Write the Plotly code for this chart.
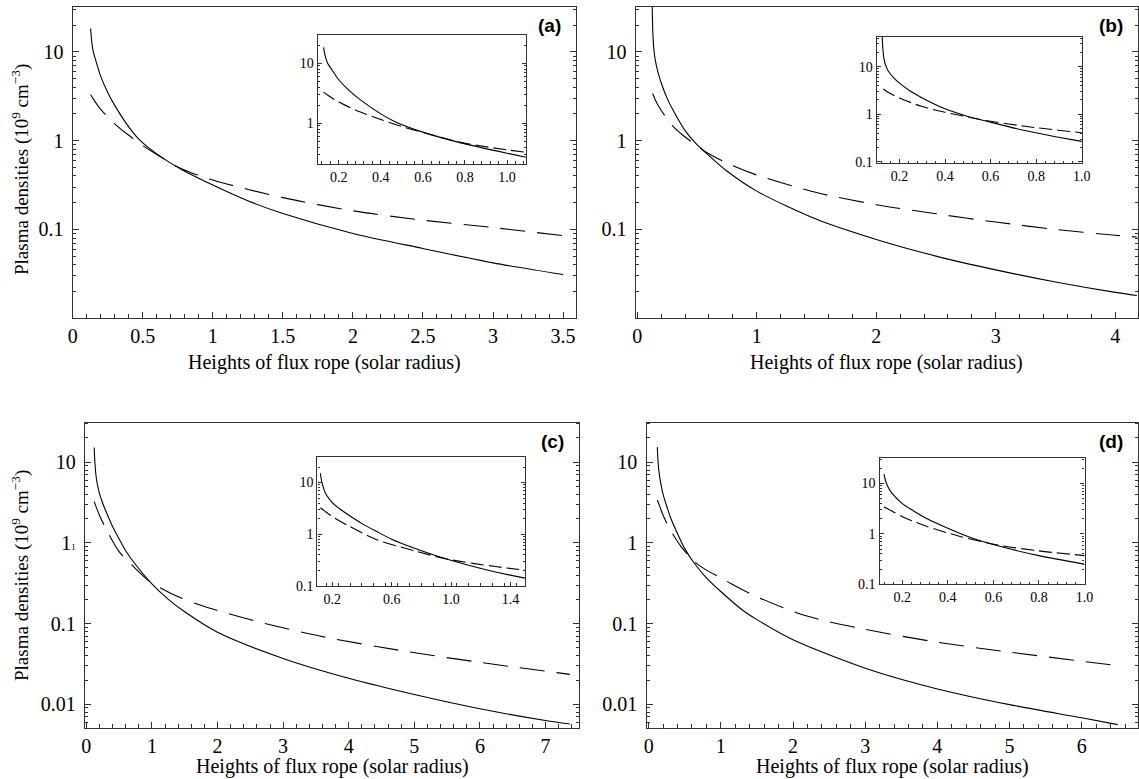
import plotly.graph_objects as go

# ---------------- data ----------------
# Panel (a)
a_x_solid = [0.128, 0.135, 0.147, 0.165, 0.2, 0.25, 0.3, 0.4, 0.47, 0.6, 0.78, 1.0, 1.25, 1.5, 2.0, 2.5, 3.0, 3.5]
a_solid = [18.4, 13.5, 10.0, 8.0, 5.3, 3.5, 2.5, 1.43, 1.05, 0.71, 0.47, 0.316, 0.21, 0.151, 0.090, 0.061, 0.042, 0.031]
a_x_dash = [0.128, 0.15, 0.2, 0.3, 0.4, 0.5, 0.6, 0.78, 1.0, 1.5, 2.0, 2.5, 3.0, 3.5]
a_dash = [3.3, 2.9, 2.25, 1.55, 1.15, 0.88, 0.7, 0.48, 0.36, 0.228, 0.162, 0.127, 0.105, 0.085]

# Panel (b)
b_x_solid = [0.123, 0.124, 0.126, 0.13, 0.135, 0.14, 0.15, 0.175, 0.2, 0.25, 0.3, 0.4, 0.5, 0.57, 0.75, 1.0, 1.5, 2.0, 2.5, 3.0, 3.5, 4.0, 4.18]
b_solid = [80, 45, 28, 17, 12.5, 10.5, 8.2, 5.8, 4.5, 3.0, 2.2, 1.3, 0.9, 0.74, 0.455, 0.27, 0.13, 0.077, 0.050, 0.035, 0.0255, 0.0195, 0.018]
b_x_dash = [0.129, 0.15, 0.2, 0.3, 0.4, 0.5, 0.57, 0.75, 1.0, 1.5, 2.0, 2.5, 3.0, 3.5, 4.0, 4.18]
b_dash = [3.4, 2.9, 2.2, 1.45, 1.1, 0.88, 0.75, 0.56, 0.41, 0.26, 0.19, 0.15, 0.121, 0.10, 0.086, 0.082]

# Panel (c)
c_x_solid = [0.12, 0.125, 0.135, 0.145, 0.16, 0.2, 0.25, 0.3, 0.4, 0.5, 0.6, 0.75, 0.97, 1.25, 1.5, 2.0, 3.0, 4.0, 5.0, 6.0, 7.0, 7.37]
c_solid = [15.2, 12, 9, 7.2, 5.8, 4.1, 3.1, 2.45, 1.6, 1.12, 0.8, 0.54, 0.33, 0.2, 0.14, 0.078, 0.037, 0.021, 0.0132, 0.0088, 0.0063, 0.0057]
c_x_dash = [0.12, 0.15, 0.2, 0.3, 0.5, 0.75, 0.97, 1.3, 1.73, 2.63, 3.64, 4.89, 6.01, 7.37]
c_dash = [3.25, 2.8, 2.2, 1.5, 0.78, 0.48, 0.33, 0.235, 0.17, 0.105, 0.068, 0.045, 0.033, 0.0235]

# Panel (d)
d_x_solid = [0.12, 0.125, 0.135, 0.145, 0.16, 0.2, 0.25, 0.3, 0.4, 0.5, 0.62, 0.8, 1.0, 1.28, 1.5, 2.0, 3.0, 4.0, 5.0, 6.0, 6.5]
d_solid = [15.4, 12, 9, 7.4, 6, 4.0, 2.85, 2.1, 1.3, 0.85, 0.58, 0.37, 0.25, 0.152, 0.112, 0.063, 0.028, 0.0155, 0.0099, 0.0068, 0.0056]
d_x_dash = [0.12, 0.15, 0.2, 0.3, 0.45, 0.62, 0.8, 1.0, 1.15, 1.5, 2.18, 2.94, 3.94, 4.94, 6.52]
d_dash = [3.4, 2.9, 2.2, 1.45, 0.9, 0.6, 0.46, 0.37, 0.31, 0.215, 0.125, 0.087, 0.060, 0.045, 0.030]

panel_labels = ["(a)", "(b)", "(c)", "(d)"]
y_tickvals = [0.01, 0.1, 1, 10]
y_ticktext = ["0.01", "0.1", "1", "10"]
y_ticktext_c = ["0.01", "0.1", "1<span style='font-size:9px'>1</span>", "10"]
x_title = "Heights of flux rope (solar radius)"
y_title = "Plasma densities (10<sup>9</sup> cm<sup>\u22123</sup>)"

# ---------------- figure ----------------
W, H = 1139, 779
SERIF = "Liberation Serif, Times New Roman, serif"
fig = go.Figure()


def px_x(p):
    return p / W


def px_y(p):
    return 1 - p / H


panels = [
    dict(xs=a_x_solid, ys=a_solid, xd=a_x_dash, yd=a_dash),
    dict(xs=b_x_solid, ys=b_solid, xd=b_x_dash, yd=b_dash),
    dict(xs=c_x_solid, ys=c_solid, xd=c_x_dash, yd=c_dash),
    dict(xs=d_x_solid, ys=d_solid, xd=d_x_dash, yd=d_dash),
]

# main axes geometry (pixels)
main_geo = [
    (72.7, 575.7, 6.7, 317.7, [0.0, 3.59], [-1.995, 1.51], 0.5, 0.1),
    (635.7, 1138.0, 6.7, 317.7, [-0.013, 4.19], [-1.995, 1.51], 1, 0.2),
    (85.0, 579.0, 422.7, 727.7, [-0.02, 7.51], [-2.29, 1.49], 1, 0.2),
    (646.5, 1138.0, 422.7, 727.7, [-0.03, 6.78], [-2.29, 1.49], 1, 0.2),
]
inset_geo = [
    (317.7, 526.0, 35.0, 164.0, [0.1, 1.09], [-0.68, 1.47], 0.04, ["0.2", "0.4", "0.6", "0.8", "1.0"], [0.2, 0.4, 0.6, 0.8, 1.0]),
    (876.7, 1081.7, 36.7, 163.3, [0.1, 1.0], [-1.03, 1.63], 0.04, ["0.2", "0.4", "0.6", "0.8", "1.0"], [0.2, 0.4, 0.6, 0.8, 1.0]),
    (317.4, 525.3, 457.3, 585.7, [0.1, 1.5], [-1.0, 1.49], 0.08, ["0.2", "0.6", "1.0", "1.4"], [0.2, 0.6, 1.0, 1.4]),
    (879.5, 1084.5, 458.3, 584.3, [0.1, 1.0], [-1.0, 1.5], 0.04, ["0.2", "0.4", "0.6", "0.8", "1.0"], [0.2, 0.4, 0.6, 0.8, 1.0]),
]

minor_log = [k * 10.0 ** e for e in range(-3, 2) for k in range(2, 10)]
frame_color = "#333333"

layout = dict(
    template="none",
    width=W, height=H, autosize=False,
    margin=dict(l=0, r=0, t=0, b=0, pad=0),
    paper_bgcolor="white", plot_bgcolor="white",
    showlegend=False,
    font=dict(family=SERIF, size=20, color="black"),
)

annotations = []

for i, (p, g) in enumerate(zip(panels, main_geo)):
    n = i + 1
    x0, x1, yt, yb, xr, yr, xdt, xmin = g
    xa = "x" if n == 1 else f"x{n}"
    ya = "y" if n == 1 else f"y{n}"
    fig.add_trace(go.Scatter(x=p["xs"], y=p["ys"], mode="lines", xaxis=xa, yaxis=ya,
                             line=dict(color="black", width=1.1, shape="spline", smoothing=0.8)))
    fig.add_trace(go.Scatter(x=p["xd"], y=p["yd"], mode="lines", xaxis=xa, yaxis=ya,
                             line=dict(color="black", width=1.1, dash="25px,12px", shape="spline", smoothing=0.8)))
    xkey = "xaxis" if n == 1 else f"xaxis{n}"
    ykey = "yaxis" if n == 1 else f"yaxis{n}"
    layout[xkey] = dict(
        domain=[px_x(x0), px_x(x1)], anchor=ya, range=xr, automargin=False,
        showgrid=False, zeroline=False, showline=True, linecolor=frame_color, linewidth=1.3,
        mirror=True, ticks="inside", ticklen=6, tickwidth=1, tickcolor=frame_color,
        dtick=xdt, tick0=0, tickfont=dict(family=SERIF, size=20, color="black"),
        minor=dict(dtick=xmin, tick0=0, ticks="inside", ticklen=3.5, tickcolor=frame_color),
    )
    layout[ykey] = dict(
        domain=[px_y(yb), px_y(yt)], anchor=xa, type="log", range=yr, automargin=False,
        showgrid=False, zeroline=False, showline=True, linecolor=frame_color, linewidth=1.3,
        mirror="ticks", ticks="inside", ticklen=6, tickwidth=1, tickcolor=frame_color,
        tickmode="array", tickvals=y_tickvals, ticktext=(y_ticktext_c if n == 3 else y_ticktext),
        tickfont=dict(family=SERIF, size=20, color="black"), ticklabelstandoff=4,
        minor=dict(tickmode="array", tickvals=minor_log, ticks="inside", ticklen=3, tickcolor=frame_color),
    )
    # panel label
    annotations.append(dict(text="<b>" + panel_labels[i] + "</b>", x=px_x(x1 - 13), y=px_y(yt + 19),
                            xref="paper", yref="paper", showarrow=False, xanchor="right", yanchor="middle",
                            font=dict(family="Liberation Sans, Arial, sans-serif", size=19, color="black")))
    # x title
    if n <= 2:
        annotations.append(dict(text=x_title, x=px_x((x0 + x1) / 2), y=px_y(yb + 45),
                                xref="paper", yref="paper", showarrow=False, xanchor="center", yanchor="middle",
                                font=dict(family=SERIF, size=20, color="black")))
    else:
        annotations.append(dict(text=x_title, x=px_x((x0 + x1) / 2), y=px_y(779), borderpad=0,
                                xref="paper", yref="paper", showarrow=False, xanchor="center", yanchor="bottom",
                                font=dict(family=SERIF, size=20, color="black")))

# y titles (left panels only)
annotations.append(dict(text=y_title, x=px_x(20), y=px_y(170), xref="paper", yref="paper", showarrow=False,
                        textangle=-90, xanchor="center", yanchor="middle",
                        font=dict(family=SERIF, size=19, color="black")))
annotations.append(dict(text=y_title, x=px_x(20), y=px_y(576), xref="paper", yref="paper", showarrow=False,
                        textangle=-90, xanchor="center", yanchor="middle",
                        font=dict(family=SERIF, size=19, color="black")))

for i, (p, g) in enumerate(zip(panels, inset_geo)):
    n = i + 5
    x0, x1, yt, yb, xr, yr, xmin, xtt, xtv = g
    xa, ya = f"x{n}", f"y{n}"
    fig.add_trace(go.Scatter(x=p["xs"], y=p["ys"], mode="lines", xaxis=xa, yaxis=ya,
                             line=dict(color="black", width=1.1, shape="spline", smoothing=0.8)))
    fig.add_trace(go.Scatter(x=p["xd"], y=p["yd"], mode="lines", xaxis=xa, yaxis=ya,
                             line=dict(color="black", width=1.1, dash="13px,5px", shape="spline", smoothing=0.8)))
    layout[f"xaxis{n}"] = dict(
        domain=[px_x(x0), px_x(x1)], anchor=ya, range=xr, automargin=False,
        showgrid=False, zeroline=False, showline=True, linecolor=frame_color, linewidth=1.2,
        mirror=True, ticks="inside", ticklen=4, tickwidth=1, tickcolor=frame_color,
        tickmode="array", tickvals=xtv, ticktext=xtt, tickfont=dict(family=SERIF, size=14, color="black"),
        minor=dict(dtick=xmin, tick0=0, ticks="inside", ticklen=2.5, tickcolor=frame_color),
    )
    layout[f"yaxis{n}"] = dict(
        domain=[px_y(yb), px_y(yt)], anchor=xa, type="log", range=yr, automargin=False,
        showgrid=False, zeroline=False, showline=True, linecolor=frame_color, linewidth=1.2,
        mirror="ticks", ticks="inside", ticklen=4, tickwidth=1, tickcolor=frame_color,
        tickmode="array", tickvals=y_tickvals, ticktext=y_ticktext,
        tickfont=dict(family=SERIF, size=14, color="black"),
        minor=dict(tickmode="array", tickvals=minor_log, ticks="inside", ticklen=2, tickcolor=frame_color),
    )

layout["annotations"] = annotations
fig.update_layout(**layout)
fig.write_html("out.html",
               config={"displayModeBar": False},
               post_script="document.body.style.margin='0px';document.body.style.padding='0px';")
